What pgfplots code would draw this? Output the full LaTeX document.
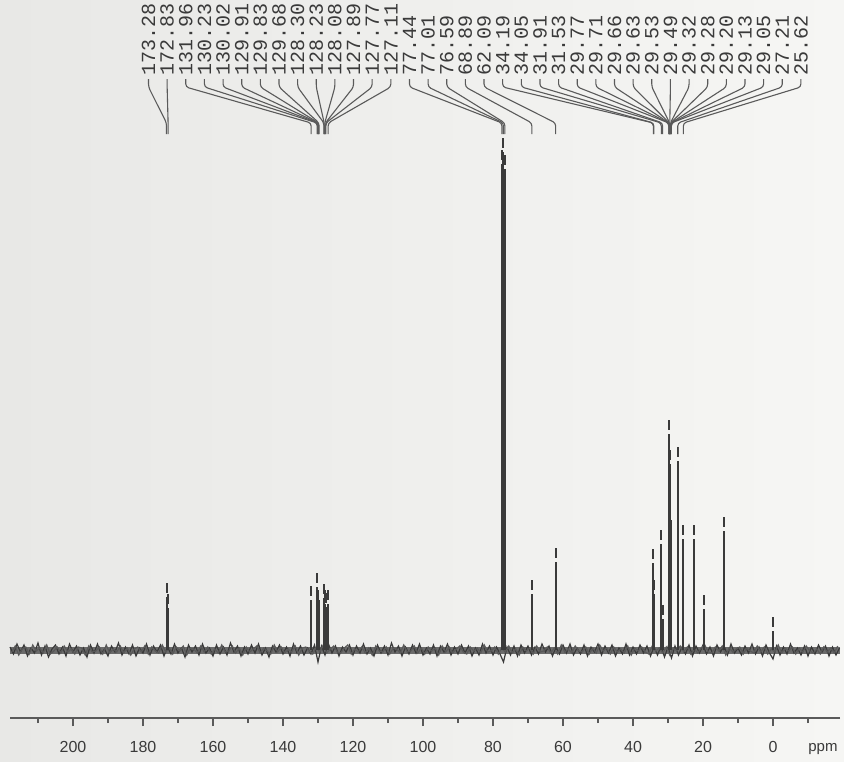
\documentclass[border=0pt]{standalone}
\usepackage{fontspec}
\setmainfont{Liberation Sans}
\newfontfamily\labfont{Liberation Mono}
\usepackage{pgfplots}
\usepackage{pgfplotstable}
\pgfplotsset{compat=1.18}

\definecolor{ink}{HTML}{3A3A3A}
\definecolor{lead}{HTML}{5A5A5A}
\definecolor{bgL}{HTML}{E8E8E6}
\definecolor{bgR}{HTML}{F6F6F4}

% peak positions (ppm), line top and tip centre (baseline = 0)
\pgfplotstableread{
x      body  tip
173.28  53   62
172.83  42   51
131.96  50   59
130.23  63   72
130.02  46   55
129.91  28   37
129.83  36   45
129.68  26   35
128.30  52   61
128.23  36   45
128.08  46   55
127.89  31   40
127.77  43   52
127.11  46   55
77.44  486  495
77.01  498  507
76.59  481  490
68.89   56   65
62.09   88   97
34.19   87   96
34.05   56   65
31.91  106  115
31.53   31   40
29.77  136  145
29.71  216  225
29.66  176  185
29.63  156  165
29.53  186  195
29.49  146  155
29.32  126  135
29.28  116  125
29.20  106  115
29.13   96  105
29.05   86   95
27.21  189  198
25.62  111  120
22.70  111  120
19.70   41   50
14.10  119  128
0.00    19   28
}\peaks

\begin{document}
\begin{tikzpicture}
\shade[left color=bgL, right color=bgR] (0pt,0pt) rectangle (422pt,-380.5pt);
\useasboundingbox (0pt,0pt) rectangle (422pt,-380.5pt);

\begin{axis}[
    at={(5pt,-359pt)}, anchor=south west,
    scale only axis,
    width=415pt, height=359pt,
    x dir=reverse,
    xmin=-19.142857, xmax=218,
    ymin=-68, ymax=650,
    axis x line=bottom,
    axis y line=none,
    axis line style={-, draw=lead, line width=1pt},
    xtick={0,20,...,200},
    minor xtick={-10,10,...,210},
    tick align=outside,
    major tick length=4pt,
    minor tick length=2.5pt,
    tick style={draw=lead, line width=0.6pt},
    xticklabel style={font=\fontsize{8}{9}\selectfont, text=ink, yshift=-4pt},
    /pgf/number format/assume math mode=true,
    clip=false,
]
% baseline noise
\addplot[draw=ink!75, line width=3.5pt] coordinates {(218,0) (-19.14,0)};
\addplot[draw=ink, line width=0.6pt] coordinates {
(218,3) (217,-4) (216,6) (215,-2) (214,5) (213,-6) (212,2) (211,-3) (210,7) (209,-5)
(208,4) (207,-7) (206,1) (205,5) (204,-4) (203,3) (202,-6) (201,6) (200,-2) (199,4)
(198,-5) (197,2) (196,-7) (195,5) (194,-3) (193,6) (192,-4) (191,1) (190,-6) (189,4)
(188,-2) (187,7) (186,-5) (185,3) (184,-4) (183,5) (182,-6) (181,2) (180,-3) (179,6)
(178,-5) (177,4) (176,-2) (175,5) (174,-6) (173,3) (172,-4) (171,6) (170,-3) (169,2)
(168,-7) (167,5) (166,-2) (165,4) (164,-5) (163,6) (162,-3) (161,2) (160,-6) (159,5)
(158,-4) (157,3) (156,-5) (155,7) (154,-2) (153,4) (152,-6) (151,3) (150,-4) (149,5)
(148,-3) (147,6) (146,-5) (145,2) (144,-7) (143,4) (142,-2) (141,5) (140,-4) (139,3)
(138,-6) (137,6) (136,-3) (135,4) (134,-5) (133,2) (132,-4) (131,5) (130,-12) (129,4)
(128,-5) (127,6) (126,-3) (125,4) (124,-6) (123,3) (122,-2) (121,5) (120,-5) (119,4)
(118,-3) (117,6) (116,-4) (115,2) (114,-6) (113,5) (112,-3) (111,4) (110,-5) (109,7)
(108,-2) (107,4) (106,-6) (105,3) (104,-4) (103,5) (102,-3) (101,6) (100,-5) (99,2)
(98,-4) (97,5) (96,-6) (95,4) (94,-2) (93,6) (92,-5) (91,3) (90,-4) (89,5)
(88,-3) (87,4) (86,-6) (85,2) (84,-5) (83,6) (82,-3) (81,4) (80,-5) (79,3)
(78,-4) (77,-12) (76,3) (75,-5) (74,4) (73,-6) (72,5) (71,-3) (70,4) (69,-5)
(68,3) (67,-4) (66,6) (65,-2) (64,4) (63,-6) (62,3) (61,-4) (60,5) (59,-3)
(58,6) (57,-5) (56,2) (55,-4) (54,5) (53,-6) (52,3) (51,-2) (50,6) (49,-5)
(48,4) (47,-3) (46,5) (45,-6) (44,2) (43,-4) (42,6) (41,-5) (40,3) (39,-4)
(38,5) (37,-3) (36,4) (35,-6) (34,3) (33,-5) (32,4) (31,-7) (30,3) (29,-8)
(28,4) (27,-5) (26,3) (25,-4) (24,5) (23,-6) (22,4) (21,-3) (20,5) (19,-4)
(18,3) (17,-6) (16,5) (15,-2) (14,4) (13,-5) (12,6) (11,-3) (10,2) (9,-5)
(8,4) (7,-3) (6,6) (5,-4) (4,3) (3,-6) (2,5) (1,-3) (0,-9) (-1,4)
(-2,-5) (-3,3) (-4,-4) (-5,6) (-6,-3) (-7,2) (-8,-5) (-9,4) (-10,-6) (-11,3)
(-12,-4) (-13,5) (-14,-2) (-15,4) (-16,-6) (-17,3) (-18,-5) (-19,2)
};
\addplot[draw=ink!85, line width=0.6pt] coordinates {
(217.5,-2) (216.5,4) (215.5,-5) (214.5,1) (213.5,3) (212.5,-4) (211.5,5) (210.5,-1) (209.5,2) (208.5,-3)
(207.5,5) (206.5,-4) (205.5,-1) (204.5,3) (203.5,-3) (202.5,4) (201.5,-2) (200.5,1) (199.5,-4) (198.5,3)
(197.5,2) (196.5,-5) (195.5,4) (194.5,-2) (193.5,-1) (192.5,3) (191.5,-4) (190.5,5) (189.5,-3) (188.5,1)
(187.5,-2) (186.5,4) (185.5,-3) (184.5,2) (183.5,-5) (182.5,1) (181.5,3) (180.5,-2) (179.5,4) (178.5,-4)
(177.5,3) (176.5,-1) (175.5,-3) (174.5,5) (173.5,-2) (172.5,2) (171.5,-4) (170.5,3) (169.5,-1) (168.5,4)
(167.5,-5) (166.5,2) (165.5,1) (164.5,-3) (163.5,4) (162.5,-2) (161.5,3) (160.5,-4) (159.5,1) (158.5,-3)
(157.5,5) (156.5,-2) (155.5,-1) (154.5,4) (153.5,-3) (152.5,2) (151.5,-5) (150.5,3) (149.5,-2) (148.5,1)
(147.5,4) (146.5,-3) (145.5,2) (144.5,-1) (143.5,-4) (142.5,5) (141.5,-2) (140.5,3) (139.5,-3) (138.5,1)
(137.5,-2) (136.5,4) (135.5,-5) (134.5,2) (133.5,3) (132.5,-1) (131.5,-4) (130.5,3) (129.5,-2) (128.5,5)
(127.5,-3) (126.5,1) (125.5,4) (124.5,-2) (123.5,-3) (122.5,2) (121.5,5) (120.5,-4) (119.5,1) (118.5,-2)
(117.5,3) (116.5,-3) (115.5,2) (114.5,-5) (113.5,4) (112.5,-1) (111.5,-2) (110.5,3) (109.5,-4) (108.5,2)
(107.5,1) (106.5,-3) (105.5,5) (104.5,-2) (103.5,-1) (102.5,4) (101.5,-3) (100.5,2) (99.5,-4) (98.5,3)
(97.5,-1) (96.5,2) (95.5,-5) (94.5,4) (93.5,-2) (92.5,3) (91.5,-3) (90.5,1) (89.5,4) (88.5,-2)
(87.5,-4) (86.5,3) (85.5,-1) (84.5,2) (83.5,-3) (82.5,5) (81.5,-2) (80.5,-1) (79.5,3) (78.5,-4)
(77.5,2) (76.5,-2) (75.5,4) (74.5,-3) (73.5,1) (72.5,-5) (71.5,3) (70.5,-1) (69.5,2) (68.5,-4)
(67.5,4) (66.5,-2) (65.5,-1) (64.5,3) (63.5,-3) (62.5,2) (61.5,-4) (60.5,5) (59.5,-2) (58.5,1)
(57.5,-3) (56.5,4) (55.5,-1) (54.5,-2) (53.5,3) (52.5,-4) (51.5,2) (50.5,-3) (49.5,5) (48.5,-1)
(47.5,2) (46.5,-4) (45.5,3) (44.5,-2) (43.5,1) (42.5,-3) (41.5,4) (40.5,-5) (39.5,2) (38.5,-1)
(37.5,3) (36.5,-2) (35.5,-4) (34.5,4) (33.5,-1) (32.5,2) (31.5,-3) (30.5,3) (29.5,-5) (28.5,2)
(27.5,-1) (26.5,4) (25.5,-2) (24.5,3) (23.5,-4) (22.5,1) (21.5,-3) (20.5,2) (19.5,5) (18.5,-2)
(17.5,-3) (16.5,3) (15.5,-1) (14.5,4) (13.5,-5) (12.5,2) (11.5,-2) (10.5,1) (9.5,3) (8.5,-4)
(7.5,2) (6.5,-1) (5.5,-3) (4.5,4) (3.5,-2) (2.5,3) (1.5,-4) (0.5,1) (-0.5,-2) (-1.5,5)
(-2.5,-3) (-3.5,2) (-4.5,-1) (-5.5,3) (-6.5,-4) (-7.5,2) (-8.5,-2) (-9.5,4) (-10.5,-1) (-11.5,-3)
(-12.5,1) (-13.5,-4) (-14.5,3) (-15.5,-2) (-16.5,2) (-17.5,-3) (-18.5,4)
};
% peaks
\addplot[ycomb, draw=ink, line width=1pt] table[x=x, y=body] {\peaks};
\addplot[only marks, mark=|, mark size=2.5pt, mark options={draw=ink, line width=1pt}]
  table[x=x, y=tip] {\peaks};
\node[anchor=base west, inner sep=0pt, font=\fontsize{7.5}{9}\selectfont, text=ink]
  at (axis cs:-10,-101) {ppm};
\end{axis}

% peak labels and leader lines
\begin{scope}[x=0.5pt,y=-0.5pt]
\foreach \p [count=\i from 0] in {173.28,172.83,131.96,130.23,130.02,129.91,129.83,
    129.68,128.30,128.23,128.08,127.89,127.77,127.11,77.44,77.01,76.59,68.89,62.09,
    34.19,34.05,31.91,31.53,29.77,29.71,29.66,29.63,29.53,29.49,29.32,29.28,29.20,
    29.13,29.05,27.21,25.62} {
  \pgfmathsetmacro\xl{148.5+18.64*\i}
  \pgfmathsetmacro\xp{773-3.5*\p}
  \draw[lead, line width=0.55pt, rounded corners=1.5pt]
    (\xl,79) -- (\xl,87) -- (\xp,123) -- (\xp,134);
  \node[rotate=90, anchor=west, inner sep=0pt, text=ink,
        font=\labfont\fontsize{10}{12}\selectfont] at (\xl,76) {\p};
}
\end{scope}
\end{tikzpicture}
\end{document}
